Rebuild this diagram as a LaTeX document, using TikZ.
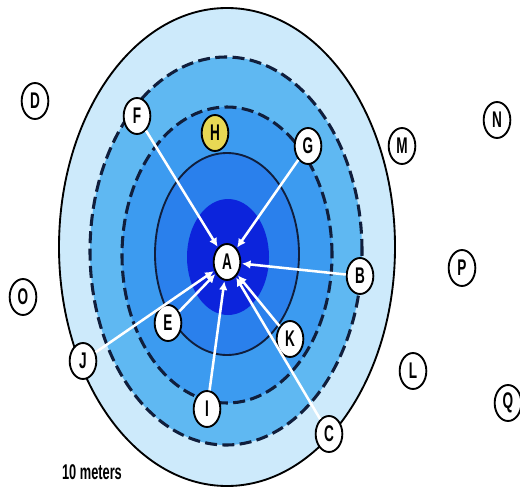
\documentclass[tikz,border=0pt]{standalone}
\usepackage{fontspec}
\setmainfont{Liberation Sans}
\usetikzlibrary{shapes.geometric,arrows.meta}
\definecolor{bandA}{RGB}{205,234,251}
\definecolor{bandB}{RGB}{95,184,242}
\definecolor{bandC}{RGB}{60,155,240}
\definecolor{bandD}{RGB}{42,128,236}
\definecolor{core}{RGB}{12,36,220}
\definecolor{dashc}{RGB}{16,30,60}
\definecolor{hyel}{RGB}{232,216,84}
\newcommand{\lbl}[1]{\scalebox{0.6}[1]{\fontsize{17}{17}\selectfont\bfseries #1}}
\tikzset{
  pt/.style={ellipse, draw=black, line width=1.4pt, fill=white, minimum width=20pt, minimum height=27pt, inner sep=0pt},
  hpt/.style={pt, fill=hyel},
  warrow/.style={draw=white, line width=1.9pt, -{Latex[length=6.5pt,width=6.5pt]}, shorten >=0.5pt},
  dashring/.style={draw=dashc, line width=2.3pt, dash pattern=on 9pt off 4pt}
}
\begin{document}
\begin{tikzpicture}[x=0.75pt,y=-0.75pt]
\useasboundingbox (0,0) rectangle (520,492);
\fill[white] (0,0) rectangle (520,492);
% rings
\filldraw[fill=bandA, draw=black, line width=1.4pt] (227,247) ellipse [x radius=126pt, y radius=179.25pt];
\fill[bandB] (226,251) ellipse [x radius=102pt, y radius=145.5pt];
\draw[dashring] (226,251) ellipse [x radius=102pt, y radius=145.5pt];
\fill[bandC] (227,255) ellipse [x radius=78.75pt, y radius=111pt];
\draw[dashring] (227,255) ellipse [x radius=78.75pt, y radius=111pt];
\filldraw[fill=bandD, draw=dashc, line width=1.4pt] (227,254) ellipse [x radius=54pt, y radius=75.75pt];
\fill[core] (228,257) ellipse [x radius=30.75pt, y radius=43.5pt];
% nodes
\node[pt] (A) at (227,262) {\lbl{A}};
\node[pt] (B) at (360,276) {\lbl{B}};
\node[pt] (C) at (329,434) {\lbl{C}};
\node[pt] (D) at (35,101) {\lbl{D}};
\node[pt] (E) at (168,323) {\lbl{E}};
\node[pt] (F) at (137,116) {\lbl{F}};
\node[pt] (G) at (308,146) {\lbl{G}};
\node[hpt] (H) at (215,133) {\lbl{H}};
\node[pt] (I) at (207,409) {\lbl{I}};
\node[pt] (J) at (83,361) {\lbl{J}};
\node[pt] (K) at (290,339) {\lbl{K}};
\node[pt] (L) at (413,371) {\lbl{L}};
\node[pt] (M) at (402,146) {\lbl{M}};
\node[pt] (N) at (497,120) {\lbl{N}};
\node[pt] (O) at (23,297) {\lbl{O}};
\node[pt] (P) at (462,268) {\lbl{P}};
\node[pt] (Q) at (508,403) {\lbl{Q}};
% arrows
\foreach \s in {F,G,B,E,J,I,K,C} \draw[warrow] (\s) -- (A);
% scale label
\node[inner sep=0pt] (scale) at (92,472) {\scalebox{0.6}[1]{\fontsize{16}{16}\selectfont\bfseries 10 meters}};
\end{tikzpicture}
\end{document}
